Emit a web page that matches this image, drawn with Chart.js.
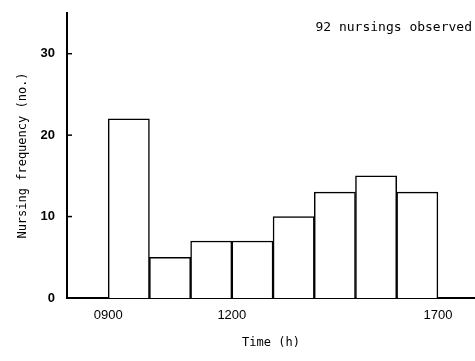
<!DOCTYPE html>
<html>
<head>
<meta charset="utf-8">
<script src="https://cdn.jsdelivr.net/npm/chart.js@4.4.0/dist/chart.umd.min.js"></script>
<style>
  body { margin: 0; background: #fff; }
  #wrap { width: 475px; height: 361px; position: relative; }
</style>
</head>
<body>
<div id="wrap"><canvas id="nursing"></canvas></div>
<script>
// hour blocks (start of each hour) and nursings counted in them
const hourStarts = [9, 10, 11, 12, 13, 14, 15, 16];
const nursings = [22, 5, 7, 7, 10, 13, 15, 13];
const xTicks = [9, 12, 17];
const yTicks = [0, 10, 20, 30];
const note = '92 nursings observed';

const mono = 'DejaVu Sans Mono';

const extras = {
  id: 'extras',
  afterDraw(chart) {
    const c = chart.ctx;
    const y = chart.scales.y;
    c.save();
    // inner tick marks on the y axis
    c.strokeStyle = '#000';
    c.lineWidth = 1.5;
    yTicks.slice(1).forEach(v => {
      const py = y.getPixelForValue(v);
      c.beginPath();
      c.moveTo(y.right, py);
      c.lineTo(y.right + 5, py);
      c.stroke();
    });
    c.fillStyle = '#000';
    c.font = '13px "' + mono + '"';
    c.textAlign = 'right';
    c.textBaseline = 'middle';
    c.fillText(note, 472, 28);
    c.restore();
  }
};

new Chart(document.getElementById('nursing'), {
  type: 'bar',
  data: {
    datasets: [{
      data: hourStarts.map((h, i) => ({ x: h + 0.5, y: nursings[i] })),
      backgroundColor: '#fff',
      borderColor: '#000',
      borderWidth: 1.5,
      barPercentage: 1,
      categoryPercentage: 1
    }]
  },
  options: {
    responsive: true,
    maintainAspectRatio: false,
    animation: false,
    layout: { padding: { top: 13, left: 0, right: 0, bottom: 0 } },
    plugins: { legend: { display: false }, tooltip: { enabled: false } },
    scales: {
      x: {
        type: 'linear',
        min: 8,
        max: 17.9,
        offset: false,
        grid: { display: false, drawTicks: false },
        border: { display: true, color: '#000', width: 2 },
        afterBuildTicks: s => { s.ticks = xTicks.map(v => ({ value: v })); },
        afterFit: s => { s.height = 63; s.paddingLeft = 0; s.paddingRight = 0; },
        ticks: {
          color: '#000',
          padding: 10,
          maxRotation: 0,
          font: { family: 'Liberation Sans', size: 13 },
          callback: v => String(v * 100).padStart(4, '0')
        },
        title: {
          display: true,
          text: 'Time (h)',
          color: '#000',
          font: { family: mono, size: 12 },
          padding: { top: 0, bottom: 11 }
        }
      },
      y: {
        min: 0,
        max: 35,
        grid: { display: false, drawTicks: false },
        border: { display: true, color: '#000', width: 2 },
        afterBuildTicks: s => { s.ticks = yTicks.map(v => ({ value: v })); },
        afterFit: s => { s.width = 67; s.paddingTop = 0; s.paddingBottom = 0; },
        ticks: {
          color: '#000',
          padding: 12,
          font: { family: 'Liberation Sans', size: 13, weight: 'bold' }
        },
        title: {
          display: true,
          text: 'Nursing frequency (no.)',
          color: '#000',
          font: { family: mono, size: 12 },
          padding: { top: 16, bottom: 0 }
        }
      }
    }
  },
  plugins: [extras]
});
</script>
</body>
</html>
